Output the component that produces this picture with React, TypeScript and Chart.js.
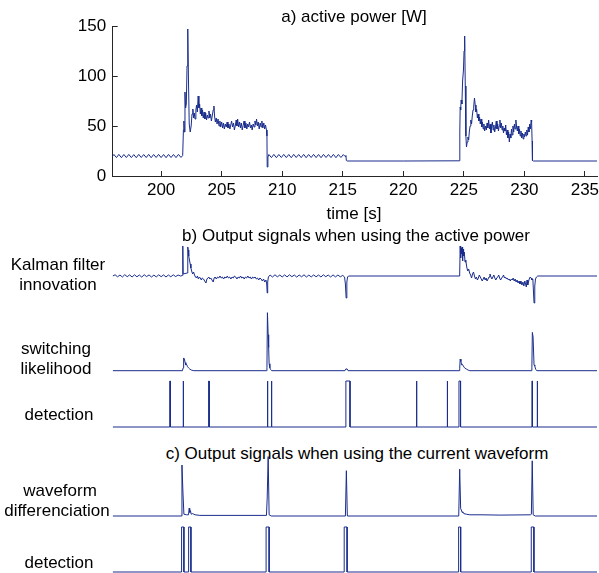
import React, { useEffect, useRef } from 'react';
import { Chart, registerables } from 'chart.js';

Chart.register(...registerables);

// ---------- data ----------
const T_MIN = 196;
const T_MAX = 236;
const timeTicks = [200, 205, 210, 215, 220, 225, 230, 235];
const powerTicks = [0, 50, 100, 150];

// a) active power [W]  — (time s, power W)
const powerIdle1: [number, number][] = [
  [196.0, 20.0], [196.1, 21.5], [196.31, 18.4], [196.51, 21.6], [196.72, 18.3], [196.92, 21.5],
  [197.13, 18.5], [197.33, 21.6], [197.54, 18.4], [197.74, 21.4], [197.95, 18.3], [198.15, 21.6],
  [198.36, 18.5], [198.56, 21.5], [198.77, 18.4], [198.97, 21.6], [199.18, 18.3], [199.38, 21.5],
  [199.59, 18.5], [199.79, 21.6], [200.0, 18.4], [200.2, 21.5], [200.41, 18.3], [200.61, 21.6],
  [200.82, 18.5], [201.02, 21.5], [201.23, 18.4], [201.43, 21.6], [201.64, 18.6], [201.78, 20.5],
];
const powerOn1: [number, number][] = [
  [201.84, 46], [201.88, 55], [201.92, 44], [201.97, 84], [202.02, 68], [202.08, 72], [202.14, 110],
  [202.2, 147], [202.26, 95], [202.32, 52], [202.4, 44], [202.48, 50], [202.55, 62], [202.62, 67],
  [202.68, 58], [202.74, 63], [202.8, 57], [202.87, 66], [202.93, 71], [202.99, 64], [203.06, 80],
  [203.12, 68], [203.18, 72], [203.24, 62], [203.3, 68], [203.36, 60], [203.42, 66], [203.48, 58],
  [203.55, 64], [203.62, 57], [203.68, 63], [203.75, 56], [203.82, 61], [203.88, 58], [203.95, 65],
  [204.02, 58], [204.08, 62], [204.15, 55], [204.22, 60], [204.3, 66], [204.36, 70], [204.42, 59],
  [204.48, 54], [204.55, 58], [204.62, 52], [204.7, 57], [204.78, 50], [204.85, 55], [204.92, 49],
  [205.0, 54], [205.08, 48], [205.15, 53], [205.22, 47], [205.3, 52], [205.38, 49], [205.45, 54],
  [205.52, 48], [205.6, 52], [205.68, 47], [205.75, 51], [205.82, 55], [205.9, 49], [205.98, 53],
  [206.05, 46], [206.12, 50], [206.2, 56], [206.26, 50], [206.32, 57], [206.4, 49], [206.48, 54],
  [206.55, 48], [206.62, 53], [206.7, 46], [206.78, 51], [206.85, 55], [206.92, 48], [207.0, 53],
  [207.08, 47], [207.15, 52], [207.22, 49], [207.3, 54], [207.38, 48], [207.45, 51], [207.52, 46],
  [207.6, 52], [207.68, 49], [207.75, 55], [207.82, 51], [207.88, 57], [207.95, 50], [208.02, 54],
  [208.1, 47], [208.18, 53], [208.25, 49], [208.32, 55], [208.4, 48], [208.48, 53], [208.55, 47],
  [208.62, 51], [208.7, 46], [208.74, 40], [208.76, 9], [208.82, 19],
];
const powerIdle2: [number, number][] = [
  [208.9, 21.5], [209.11, 18.4], [209.31, 21.6], [209.52, 18.3], [209.72, 21.5], [209.93, 18.5],
  [210.13, 21.6], [210.34, 18.4], [210.54, 21.5], [210.75, 18.3], [210.95, 21.6], [211.16, 18.5],
  [211.36, 21.5], [211.57, 18.4], [211.77, 21.6], [211.98, 18.3], [212.18, 21.5], [212.39, 18.5],
  [212.59, 21.6], [212.8, 18.4], [213.0, 21.5], [213.21, 18.3], [213.41, 21.6], [213.62, 18.5],
  [213.82, 21.5], [214.03, 18.4], [214.23, 21.6], [214.44, 18.3], [214.64, 21.5], [214.85, 18.5],
  [215.05, 21.4], [215.2, 19.5], [215.26, 20.5], [215.3, 15.5], [215.36, 15.0], [220.0, 15.0],
  [224.64, 15.2],
];
const powerOn2: [number, number][] = [
  [224.67, 45], [224.7, 69], [224.74, 66], [224.78, 76], [224.84, 72], [224.9, 95], [224.97, 106],
  [225.02, 125], [225.07, 140], [225.12, 90], [225.17, 40], [225.22, 29], [225.28, 34], [225.34, 39],
  [225.4, 36], [225.46, 45], [225.52, 50], [225.58, 56], [225.64, 52], [225.7, 60], [225.76, 66],
  [225.82, 70], [225.88, 78], [225.94, 71], [226.0, 64], [226.06, 67], [226.12, 58], [226.18, 62],
  [226.24, 55], [226.3, 59], [226.36, 52], [226.42, 57], [226.48, 49], [226.54, 54], [226.6, 47],
  [226.66, 52], [226.72, 45], [226.8, 50], [226.86, 46], [226.92, 53], [226.98, 48], [227.05, 56],
  [227.12, 47], [227.18, 52], [227.24, 43], [227.3, 50], [227.36, 54], [227.42, 46], [227.48, 51],
  [227.55, 44], [227.62, 49], [227.68, 55], [227.74, 47], [227.8, 52], [227.86, 45], [227.92, 50],
  [227.98, 56], [228.04, 48], [228.1, 53], [228.16, 46], [228.22, 50], [228.28, 43], [228.34, 48],
  [228.4, 45], [228.46, 51], [228.52, 41], [228.58, 46], [228.64, 38], [228.7, 44], [228.76, 34],
  [228.82, 42], [228.88, 38], [228.94, 47], [229.0, 41], [229.06, 50], [229.12, 44], [229.18, 52],
  [229.24, 47], [229.3, 56], [229.36, 49], [229.42, 45], [229.48, 50], [229.54, 42], [229.6, 47],
  [229.66, 40], [229.72, 45], [229.78, 38], [229.84, 43], [229.9, 37], [229.96, 42], [230.02, 39],
  [230.08, 44], [230.14, 40], [230.2, 46], [230.26, 41], [230.32, 49], [230.38, 44], [230.44, 52],
  [230.5, 47], [230.56, 56], [230.6, 54], [230.64, 35], [230.67, 15.5], [230.75, 15.0], [236.0, 15.0],
];

// b) Kalman filter innovation (arbitrary units)
const kalmanInnovation: [number, number][] = [
  [196.0, 0], [196.2, 1.2], [196.4, -0.8], [196.6, 1.0], [196.8, -1.0], [197.0, 1.3], [197.2, -0.7],
  [197.4, 1.1], [197.6, -1.0], [197.8, 1.2], [198.0, -0.8], [198.2, 1.0], [198.4, -1.1], [198.6, 1.3],
  [198.8, -0.6], [199.0, 1.1], [199.2, -1.0], [199.4, 0.9], [199.6, -0.9], [199.8, 1.2], [200.0, -0.7],
  [200.2, 1.1], [200.4, -1.0], [200.6, 1.0], [200.8, -0.8], [201.0, 1.2], [201.2, -0.6], [201.4, 1.0],
  [201.6, 0.0], [201.76, 0.5], [201.78, 30], [201.8, 30], [201.82, 2], [202.15, 3], [202.2, 29],
  [202.24, 26], [202.28, 20], [202.34, 16], [202.4, 12], [202.46, 8], [202.52, 5], [202.6, 2],
  [202.68, 4], [202.76, 1], [202.84, -1], [202.92, -2], [203.0, 0], [203.08, -3], [203.16, -1],
  [203.24, -2], [203.32, -4], [203.4, -2], [203.5, -3], [203.6, -5], [203.7, -7], [203.78, -3],
  [203.86, -2], [203.94, -1], [204.02, -3], [204.1, -2], [204.2, -4], [204.3, -6], [204.38, -2],
  [204.46, -1], [204.56, -3], [204.66, -1], [204.76, -2], [204.86, 0], [204.96, -2], [205.06, -1],
  [205.16, -3], [205.26, -1], [205.36, -2], [205.46, 0], [205.56, -2], [205.66, -1], [205.76, -3],
  [205.86, -1], [205.96, -2], [206.06, 0], [206.16, -1], [206.26, -3], [206.36, -1], [206.46, -2],
  [206.56, 0], [206.66, -2], [206.76, -1], [206.86, -3], [206.96, -1], [207.06, -2], [207.16, 0],
  [207.26, -2], [207.36, -1], [207.46, -3], [207.56, -1], [207.66, -2], [207.76, -1], [207.86, -3],
  [207.96, -2], [208.06, -4], [208.16, -2], [208.26, -3], [208.36, -5], [208.46, -3], [208.56, -6],
  [208.66, -4], [208.72, -8], [208.76, -17], [208.8, -6], [208.86, -1], [209.0, 1.0], [209.2, -1.0],
  [209.4, 1.2], [209.6, -0.8], [209.8, 1.0], [210.0, -1.0], [210.2, 1.1], [210.4, -0.9], [210.6, 1.2],
  [210.8, -0.7], [211.0, 1.0], [211.2, -1.1], [211.4, 1.0], [211.6, -0.8], [211.8, 1.2], [212.0, -1.0],
  [212.2, 0.9], [212.4, -0.9], [212.6, 1.1], [212.8, -0.8], [213.0, 1.0], [213.2, -1.0], [213.4, 1.2],
  [213.6, -0.7], [213.8, 1.0], [214.0, -1.0], [214.2, 1.1], [214.4, -0.9], [214.6, 1.0], [214.8, -0.8],
  [215.0, 0.6], [215.15, -1], [215.22, -8], [215.28, -22], [215.34, -6], [215.4, -1], [215.48, 0],
  [224.62, 0], [224.66, 2], [224.7, 30], [224.74, 18], [224.78, 28], [224.82, 22], [224.86, 29],
  [224.9, 15], [224.94, 27], [224.98, 20], [225.04, 24], [225.1, 14], [225.16, 16], [225.24, 9],
  [225.32, 5], [225.4, 7], [225.48, 3], [225.56, 1], [225.64, -2], [225.72, 2], [225.8, 4], [225.88, 0],
  [225.96, -3], [226.04, -1], [226.12, -4], [226.2, -2], [226.28, 1], [226.36, -1], [226.44, -3],
  [226.52, -5], [226.6, -3], [226.68, -1], [226.76, -4], [226.84, -2], [226.92, -5], [227.0, -3],
  [227.08, -1], [227.16, 2], [227.24, -1], [227.32, -3], [227.4, -1], [227.48, 1], [227.56, -2],
  [227.64, -4], [227.72, -2], [227.8, -1], [227.88, 1], [227.96, -2], [228.04, -4], [228.12, -2],
  [228.2, -1], [228.28, 1], [228.36, -2], [228.44, -1], [228.52, -3], [228.6, -2], [228.68, -4],
  [228.76, -3], [228.84, -5], [228.92, -3], [229.0, -4], [229.08, -2], [229.16, -5], [229.24, -3],
  [229.32, -6], [229.4, -4], [229.48, -7], [229.56, -5], [229.64, -8], [229.72, -5], [229.8, -9],
  [229.88, -6], [229.96, -10], [230.04, -5], [230.1, -8], [230.16, -11], [230.22, -4], [230.28, -9],
  [230.34, -6], [230.4, -3], [230.48, -1], [230.56, -2], [230.62, -4], [230.7, -3], [230.8, -27],
  [230.86, -10], [230.92, -3], [231.0, -1], [231.1, 0], [236.0, 0],
];

// b) switching likelihood (normalised)
const switchingLikelihood: [number, number][] = [
  [196.0, 0], [201.76, 0], [201.82, 0.05], [201.86, 0.22], [201.92, 0.2], [201.98, 0.14], [202.04, 0.1],
  [202.1, 0.11], [202.18, 0.07], [202.26, 0.05], [202.36, 0.03], [202.5, 0.01], [202.7, 0],
  [208.7, 0], [208.74, 0.05], [208.78, 1.0], [208.84, 0.62], [208.88, 0.4], [208.92, 0.12],
  [208.98, 0.05], [209.04, 0.02], [209.14, 0], [215.18, 0], [215.26, 0.03], [215.36, 0.03],
  [215.44, 0], [224.62, 0], [224.66, 0.04], [224.7, 0.2], [224.76, 0.16], [224.82, 0.1],
  [224.88, 0.11], [224.96, 0.08], [225.06, 0.05], [225.2, 0.03], [225.36, 0.01], [225.5, 0],
  [230.56, 0], [230.62, 0.05], [230.66, 0.66], [230.72, 0.58], [230.8, 0.1], [230.86, 0.08],
  [230.94, 0.02], [231.04, 0], [236.0, 0],
];

// b) detection (pulse start / end times, s)
const detectionPowerOn = [200.72, 201.81, 203.93, 208.77, 209.1, 215.26, 221.08, 223.62, 224.6, 230.63, 231.05];
const detectionPowerOff = [200.76, 201.85, 203.97, 208.81, 209.14, 215.6, 221.12, 223.66, 224.73, 230.67, 231.09];

// c) waveform differenciation (normalised)
const waveformDiff: [number, number][] = [
  [196.0, 0], [201.66, 0], [201.72, 0.85], [201.8, 0.4], [201.88, 0.03], [202.1, 0.02], [202.26, 0.02],
  [202.32, 0.13], [202.36, 0.06], [202.42, 0.09], [202.48, 0.03], [202.6, 0.04], [202.8, 0.02],
  [203.2, 0.01], [208.7, 0.01], [208.76, 0.3], [208.84, 0.99], [208.92, 0.02], [209.1, 0],
  [215.22, 0], [215.3, 0.755], [215.38, 0], [224.58, 0], [224.66, 0.78], [224.74, 0.12], [224.8, 0.1],
  [224.86, 0.06], [224.92, 0.07], [225.0, 0.04], [225.2, 0.03], [225.5, 0.02], [226.5, 0.02],
  [228.0, 0.015], [230.5, 0.02], [230.58, 0.03], [230.65, 0.92], [230.73, 0.02], [230.9, 0],
  [236.0, 0],
];

// c) detection (pulse start / end times, s)
const detectionWaveOn = [201.69, 202.27, 208.67, 215.12, 224.57, 230.57];
const detectionWaveOff = [201.88, 202.46, 208.92, 215.36, 224.74, 230.79];

// ---------- styling / layout ----------
const LINE = '#1a2d8c';
const AXIS = '#262626';
const FONT = '"Liberation Sans", Arial, Helvetica, sans-serif';
const FS = 17;
const PLOT_LEFT = 112.7;
const PLOT_RIGHT = 597;
const W = 599;

type Pt = { x: number; y: number };
const toPts = (...parts: [number, number][][]): Pt[] =>
  parts.flat().map(([x, y]) => ({ x, y }));
const pulses = (on: number[], off: number[]): Pt[] => {
  const pts: Pt[] = [{ x: T_MIN, y: 0 }];
  on.forEach((t, i) => {
    pts.push({ x: t, y: 0 }, { x: t, y: 1 }, { x: off[i], y: 1 }, { x: off[i], y: 0 });
  });
  pts.push({ x: T_MAX, y: 0 });
  return pts;
};

const dataset = (data: Pt[]) => ({
  data,
  borderColor: LINE,
  borderWidth: 1,
  pointRadius: 0,
  tension: 0,
  fill: false,
});

function PowerChart() {
  const ref = useRef<HTMLCanvasElement>(null);
  useEffect(() => {
    const H = 230;
    const bottom = 176;
    const font = { family: FONT, size: FS };
    const chart = new Chart(ref.current!, {
      type: 'line',
      data: { datasets: [dataset(toPts(powerIdle1, powerOn1, powerIdle2, powerOn2))] },
      options: {
        animation: false,
        responsive: false,
        events: [],
        layout: { padding: { left: 0, right: W - PLOT_RIGHT, top: 26, bottom: 0 } },
        plugins: { legend: { display: false }, tooltip: { enabled: false }, title: { display: false } },
        scales: {
          x: {
            type: 'linear',
            min: T_MIN,
            max: T_MAX,
            afterBuildTicks: (s: any) => { s.ticks = timeTicks.map((value) => ({ value })); },
            afterFit: (s: any) => { s.height = H - bottom; s.paddingLeft = 0; s.paddingRight = 0; },
            grid: { drawOnChartArea: false, tickLength: -5, color: AXIS, tickColor: AXIS },
            border: { color: AXIS, width: 1 },
            ticks: { font, color: '#000', padding: 9, maxRotation: 0, autoSkip: false },
          },
          y: {
            type: 'linear',
            min: 0,
            max: 150,
            afterBuildTicks: (s: any) => { s.ticks = powerTicks.map((value) => ({ value })); },
            afterFit: (s: any) => { s.width = PLOT_LEFT; s.paddingTop = 0; s.paddingBottom = 0; },
            grid: { drawOnChartArea: false, tickLength: -5, color: AXIS, tickColor: AXIS },
            border: { color: AXIS, width: 1 },
            ticks: { font, color: '#000', padding: 11.5, autoSkip: false },
          },
        },
      } as any,
    });
    return () => chart.destroy();
  }, []);
  return (
    <canvas ref={ref} width={W} height={230}
      style={{ position: 'absolute', left: 0, top: 0, width: W, height: 230 }} />
  );
}

function SignalRow({ data, top, height, baseline, unit }:
  { data: Pt[]; top: number; height: number; baseline: number; unit: number }) {
  const ref = useRef<HTMLCanvasElement>(null);
  useEffect(() => {
    const yMax = (baseline - top) / unit;
    const yMin = -(top + height - baseline) / unit;
    const chart = new Chart(ref.current!, {
      type: 'line',
      data: { datasets: [dataset(data)] },
      options: {
        animation: false,
        responsive: false,
        events: [],
        layout: { padding: { left: PLOT_LEFT, right: W - PLOT_RIGHT, top: 0, bottom: 0 } },
        plugins: { legend: { display: false }, tooltip: { enabled: false } },
        scales: {
          x: { type: 'linear', display: false, min: T_MIN, max: T_MAX },
          y: { type: 'linear', display: false, min: yMin, max: yMax },
        },
      } as any,
    });
    return () => chart.destroy();
  }, []);
  return (
    <canvas ref={ref} width={W} height={height}
      style={{ position: 'absolute', left: 0, top, width: W, height }} />
  );
}

function Text({ x, y, children }: { x: number; y: number; children: React.ReactNode }) {
  return (
    <div style={{
      position: 'absolute', left: x, top: y, transform: 'translate(-50%, -50%)',
      whiteSpace: 'nowrap', fontFamily: FONT, fontSize: FS, lineHeight: 1, color: '#000',
    }}>{children}</div>
  );
}

export default function App() {
  return (
    <div style={{ position: 'absolute', left: 0, top: 0, width: W, height: 573, background: '#fff', overflow: 'hidden' }}>
      <PowerChart />
      <Text x={354} y={16}>a) active power [W]</Text>
      <Text x={354} y={213}>time [s]</Text>

      <Text x={356} y={235}>b) Output signals when using the active power</Text>
      <SignalRow data={toPts(kalmanInnovation)} top={242} height={66} baseline={276} unit={1} />
      <Text x={58} y={264}>Kalman filter</Text>
      <Text x={58} y={284}>innovation</Text>

      <SignalRow data={toPts(switchingLikelihood)} top={308} height={68} baseline={370.7} unit={58} />
      <Text x={56} y={348}>switching</Text>
      <Text x={56} y={368}>likelihood</Text>

      <SignalRow data={pulses(detectionPowerOn, detectionPowerOff)} top={376} height={56} baseline={427} unit={46} />
      <Text x={59} y={414}>detection</Text>

      <Text x={357} y={453}>c) Output signals when using the current waveform</Text>
      <SignalRow data={toPts(waveformDiff)} top={452} height={70} baseline={516} unit={60} />
      <Text x={60} y={490}>waveform</Text>
      <Text x={57} y={510}>differenciation</Text>

      <SignalRow data={pulses(detectionWaveOn, detectionWaveOff)} top={522} height={51} baseline={572} unit={45} />
      <Text x={59} y={562}>detection</Text>
    </div>
  );
}
